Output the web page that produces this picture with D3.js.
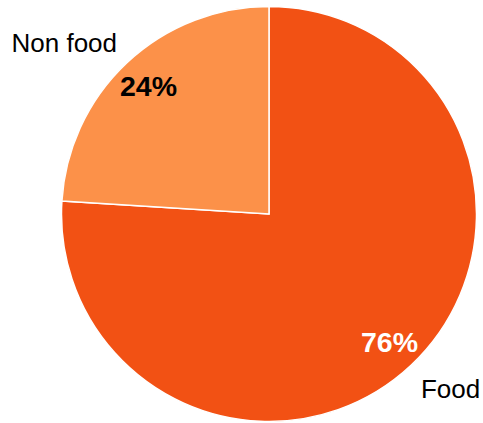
<!DOCTYPE html>
<head>
<meta charset="UTF-8">
<title>Food vs Non food</title>
<script src="https://cdnjs.cloudflare.com/ajax/libs/d3/7.8.5/d3.min.js"></script>
<style>
body { margin:0; background:#fff; }
text { font-family:"Liberation Sans", Arial, sans-serif; }
</style>
</head>
<body>
<div id="chart"></div>
<script>
// data
var categories = ["Food", "Non food"];
var shares = [76, 24];
var colours = ["#f25114", "#fc9149"];
var pctColours = ["#ffffff", "#000000"];

var width = 483, height = 423;
var cx = 269, cy = 214, R = 207.5;

var svg = d3.select("#chart").append("svg").attr("width", width).attr("height", height);
var g = svg.append("g").attr("transform", "translate(" + cx + "," + cy + ")");

var data = categories.map(function(c, i){ return {name:c, value:shares[i], i:i}; });

var pie = d3.pie().sort(null).value(function(d){ return d.value; });
var arcs = pie(data);
var arc = d3.arc().innerRadius(0).outerRadius(R);

g.selectAll("path.slice").data(arcs).enter().append("path")
  .attr("class", "slice")
  .attr("d", arc)
  .attr("fill", function(d){ return colours[d.data.i]; })
  .attr("stroke", "#fff")
  .attr("stroke-width", 1.5);

// percentage labels inside the slices
var pctArc = d3.arc().innerRadius(176).outerRadius(176);
g.selectAll("text.pct").data(arcs).enter().append("text")
  .attr("class", "pct")
  .attr("x", function(d){ return pctArc.centroid(d)[0]; })
  .attr("y", function(d){ return pctArc.centroid(d)[1] + 10; })
  .attr("text-anchor", "middle")
  .attr("font-size", "28.5px")
  .attr("font-weight", "bold")
  .attr("fill", function(d){ return pctColours[d.data.i]; })
  .text(function(d){ return d.data.value + "%"; });

// category names outside
var outArc = d3.arc().innerRadius(222).outerRadius(222);
g.selectAll("text.name").data(arcs).enter().append("text")
  .attr("class", "name")
  .attr("x", function(d){ return outArc.centroid(d)[0]; })
  .attr("y", function(d){
    var p = outArc.centroid(d);
    return p[1] < 0 ? p[1] : p[1] + 22; // below centre: hang the text under the point
  })
  .attr("text-anchor", function(d){ return outArc.centroid(d)[0] < 0 ? "end" : "start"; })
  .attr("font-size", "26px")
  .attr("fill", "#000")
  .text(function(d){ return d.data.name; });
</script>
</body>
</html>
